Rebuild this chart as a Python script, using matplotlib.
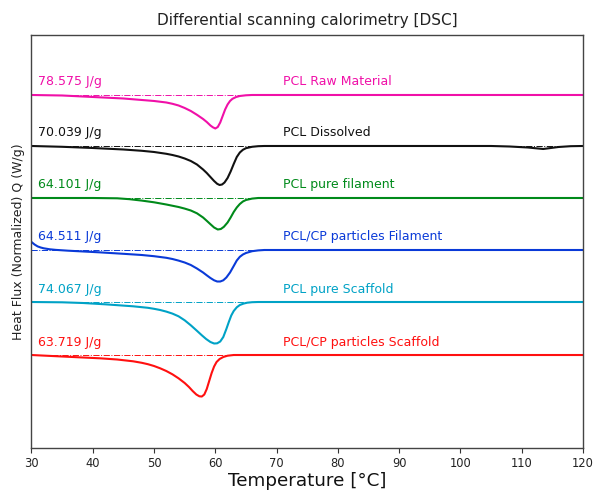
import matplotlib
matplotlib.use("Agg")
import matplotlib.pyplot as plt

# ---- data (heat flux relative to each curve's baseline, arbitrary units) ----
names = ["PCL Raw Material", "PCL Dissolved", "PCL pure filament",
         "PCL/CP particles Filament", "PCL pure Scaffold", "PCL/CP particles Scaffold"]
enthalpy = ["78.575 J/g", "70.039 J/g", "64.101 J/g", "64.511 J/g", "74.067 J/g", "63.719 J/g"]
colors = ["#f010a8", "#111111", "#008a1a", "#0a3ad8", "#00a2c6", "#ff1010"]
offsets = [260, 209, 157, 105, 53, 0]

t_raw = [30, 35, 40, 45, 48, 50, 52, 53, 54, 55, 56, 57, 58, 58.6, 59.2, 59.6, 60, 60.4, 60.8, 61.2, 61.6,
         62, 62.4, 62.8, 63.4, 64, 65, 66, 120]
q_raw = [0, -0.5, -2, -3.5, -5, -6, -7.5, -8.8, -10.5, -13, -16, -19.8, -24, -27, -30.5, -32.3, -33.5, -32,
         -27.5, -21, -14.5, -9.5, -6, -3.8, -2, -1, -0.3, 0, 0]

t_dis = [30, 35, 40, 45, 48, 50, 52, 53, 54, 55, 56, 57, 58, 58.6, 59.2, 59.8, 60.3, 60.7, 61.1, 61.5, 62,
         62.5, 63, 63.5, 64, 64.5, 65, 66, 67, 68, 105, 108, 111, 113.5, 116, 118, 120]
q_dis = [0, -0.8, -2, -3.5, -4.8, -6, -7.8, -9, -10.5, -12.5, -15, -18.5, -23.5, -27, -31, -35, -37.8, -39,
         -38.5, -36.5, -32, -25.5, -18, -11, -6.5, -3.8, -2.2, -0.8, -0.2, 0, 0, -0.5, -1.5, -3, -1, -0.2, 0]

t_fil = [30, 40, 44, 46, 48, 50, 52, 54, 55, 56, 57, 58, 58.6, 59.2, 59.8, 60.4, 60.9, 61.4, 62, 62.5, 63,
         63.5, 64, 64.5, 65, 66, 67, 120]
q_fil = [0, 0, -0.3, -1.2, -2.6, -4.3, -6.5, -9, -10.6, -12.5, -15.3, -19.5, -22.8, -26.2, -29.5, -31.5, -31,
         -28.8, -24.5, -19.5, -14, -9.5, -6, -3.5, -2, -0.6, 0, 0]

t_cpf = [30, 30.5, 31, 31.5, 32, 33, 34, 36, 41, 45, 48, 50, 52, 53, 54, 55, 56, 57, 58, 58.6, 59.2, 59.8,
         60.3, 60.8, 61.3, 61.8, 62.4, 63, 63.5, 64, 64.5, 65, 66, 67, 68, 120]
q_cpf = [8, 5.5, 3.6, 2.5, 1.7, 0.7, 0.1, -0.7, -2.3, -3.8, -5, -6.2, -7.8, -9, -10.6, -12.5, -15, -18.5,
         -22.5, -25.3, -28, -30.3, -31.5, -31.5, -30.3, -27.5, -22.5, -16, -10.5, -6.8, -4.5, -3, -1.2, -0.4,
         0, 0]

t_scf = [30, 35, 38.4, 42, 46.6, 49, 50, 51, 52, 53, 54, 55, 56, 57, 57.8, 58.5, 59.2, 59.8, 60.3, 60.8,
         61.3, 61.8, 62.2, 62.6, 63, 63.5, 64, 64.6, 65.2, 66, 67, 120]
q_scf = [0, -0.3, -1, -2.3, -4.3, -5.8, -6.8, -8, -9.6, -11.6, -14.3, -18.3, -23.3, -28.8, -33.3, -37, -40,
         -41.5, -41.3, -39.5, -35, -27, -20, -13.5, -9, -5.3, -3, -1.6, -0.7, -0.2, 0, 0]

t_cps = [30, 35.7, 41.2, 44, 46.6, 48, 49, 50, 51, 52, 53, 54, 55, 55.7, 56.3, 56.9, 57.4, 57.8, 58.2, 58.6,
         59, 59.4, 59.8, 60.2, 60.7, 61.3, 62, 63, 120]
q_cps = [0, -1.7, -3.3, -4.5, -6.3, -7.8, -9.2, -11, -13.3, -16, -19.3, -23.3, -28, -32, -36, -39.5, -41.3,
         -41.5, -39.5, -34, -26, -18, -11.5, -7, -4, -2, -0.7, 0, 0]

temps = [t_raw, t_dis, t_fil, t_cpf, t_scf, t_cps]
flux = [q_raw, q_dis, q_fil, q_cpf, q_scf, q_cps]

x_ticks = [30, 40, 50, 60, 70, 80, 90, 100, 110, 120]

# ---- figure ----
fig = plt.figure(figsize=(5.94, 4.92), dpi=100)
ax = fig.add_axes([0.053, 0.0894, 0.9285, 0.8395])

for t, q, off, c, name, h in zip(temps, flux, offsets, colors, names, enthalpy):
    ax.plot(t, [v + off for v in q], color=c, lw=1.5, solid_joinstyle="round")
    ax.plot([30, 120], [off, off], color=c, lw=0.7, ls="-.")
    ax.text(31, off + 13, h, color=c, fontsize=9, va="center", ha="left")
    ax.text(71, off + 13, name, color=c, fontsize=9, va="center", ha="left")

ax.set_xlim(30, 120)
ax.set_ylim(-93, 320)
ax.set_xticks(x_ticks)
ax.set_yticks([])
ax.tick_params(axis="x", labelsize=8.3, colors="#333333", length=3.5, pad=3)
ax.tick_params(axis="x", labelcolor="#222222")
for s in ax.spines.values():
    s.set_color("#444444")
    s.set_linewidth(1.0)

ax.set_title("Differential scanning calorimetry [DSC]", fontsize=11, color="#222222", pad=7)
ax.set_xlabel("Temperature [°C]", fontsize=13.2, color="#111111", labelpad=1.5)
ax.set_ylabel("Heat Flux (Normalized) Q (W/g)", fontsize=9, color="#222222", labelpad=5)

fig.savefig("out.png", dpi=100)
